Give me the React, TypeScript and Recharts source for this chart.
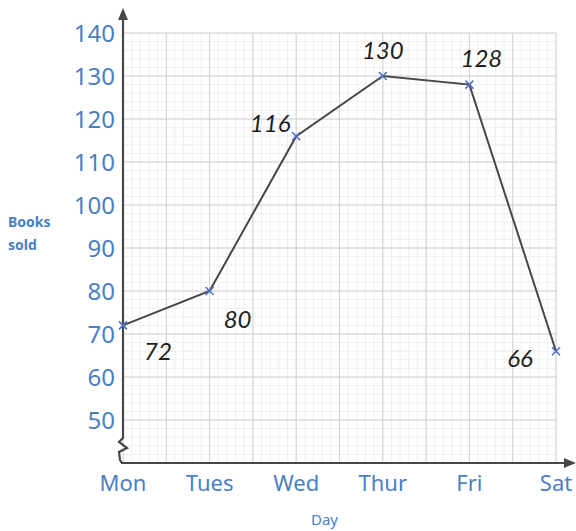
import { CartesianGrid, LabelList, Line, LineChart, ReferenceLine, XAxis, YAxis } from 'recharts'

const days = ['Mon', 'Tues', 'Wed', 'Thur', 'Fri', 'Sat']
const booksSold = [72, 80, 116, 130, 128, 66]
const yTicks = [50, 60, 70, 80, 90, 100, 110, 120, 130, 140]

const data = days.map((day, i) => ({ day, idx: i, sold: booksSold[i] }))

// where each handwritten number sits relative to its point
const labelShift = [
  [35, 25],
  [28, 27],
  [-26, -14],
  [0, -27],
  [12, -27],
  [-36, 6],
]

const blue = '#4a7fc3'
const ink = '#474747'

const spread = (start: number, size: number, n: number) =>
  Array.from({ length: n + 1 }, (_, i) => start + (i * size) / n)

function Cross(props: any) {
  const { cx, cy } = props
  if (cx == null || cy == null) return null
  return (
    <g stroke='#4d6fc4' strokeWidth={1.6}>
      <line x1={cx - 4} y1={cy - 4} x2={cx + 4} y2={cy + 4} />
      <line x1={cx - 4} y1={cy + 4} x2={cx + 4} y2={cy - 4} />
    </g>
  )
}

function YAxisLine(props: any) {
  const { x1, y1, y2 } = props
  const top = Math.min(y1, y2)
  const bottom = Math.max(y1, y2)
  const x = x1
  return (
    <g>
      <path
        d={`M${x},${top + 8} L${x},${bottom - 25} L${x - 4},${bottom - 21} L${x + 4},${bottom - 15} L${x - 4},${bottom - 11} L${x - 3},${bottom - 3} L${x - 1},${bottom}`}
        stroke={ink}
        strokeWidth={2.2}
        fill='none'
      />
      <polygon points={`${x},${top} ${x - 5},${top + 12} ${x + 5},${top + 12}`} fill={ink} />
    </g>
  )
}

function XAxisLine(props: any) {
  const { x1, x2, y1 } = props
  const left = Math.min(x1, x2)
  const right = Math.max(x1, x2)
  return (
    <g>
      <line x1={left - 2} y1={y1} x2={right - 8} y2={y1} stroke={ink} strokeWidth={2.2} />
      <polygon points={`${right},${y1} ${right - 12},${y1 - 5} ${right - 12},${y1 + 5}`} fill={ink} />
    </g>
  )
}

function HandLabel(props: any) {
  const { x, y, value, index } = props
  const [dx, dy] = labelShift[index]
  return (
    <text
      x={x + dx}
      y={y + dy}
      textAnchor='middle'
      dominantBaseline='central'
      fontFamily='Lato, sans-serif'
      fontStyle='italic'
      fontSize={24}
      fill='#1e1e1e'
    >
      {value}
    </text>
  )
}

export default function App() {
  return (
    <div style={{ position: 'absolute', left: 0, top: 0, background: '#fff' }}>
      <LineChart width={576} height={531} data={data} margin={{ top: 33, right: 20, left: 0, bottom: 0 }}>
        <CartesianGrid
          stroke='#efefef'
          strokeWidth={1}
          horizontalCoordinatesGenerator={({ offset }: any) => spread(offset.top, offset.height, 50)}
          verticalCoordinatesGenerator={({ offset }: any) => spread(offset.left, offset.width, 50)}
        />
        <CartesianGrid
          stroke='#d2d2d2'
          strokeWidth={1}
          horizontalCoordinatesGenerator={({ offset }: any) => spread(offset.top, offset.height, 10)}
          verticalCoordinatesGenerator={({ offset }: any) => spread(offset.left, offset.width, 10)}
        />
        <XAxis
          dataKey='idx'
          type='number'
          domain={[0, 5]}
          ticks={[0, 1, 2, 3, 4, 5]}
          tickFormatter={(i: number) => days[i]}
          height={68}
          axisLine={false}
          tickLine={false}
          tickMargin={6}
          tick={{ fill: blue, fontSize: 22, fontFamily: 'Noto Sans, sans-serif' }}
          label={{
            content: ({ viewBox }: any) => (
              <text
                x={viewBox.x + viewBox.width / 2 - 15}
                y={viewBox.y + viewBox.height - 6}
                textAnchor='middle'
                fontFamily='Noto Sans, sans-serif'
                fontSize={15}
                fill={blue}
              >
                Day
              </text>
            ),
          }}
        />
        <YAxis
          type='number'
          domain={[40, 140]}
          ticks={yTicks}
          width={123}
          axisLine={false}
          tickLine={false}
          tick={{ fill: blue, fontSize: 24, fontFamily: 'Noto Sans, sans-serif' }}
          label={{
            content: () => (
              <text fontFamily='Noto Sans, sans-serif' fontSize={14} fontWeight={700} fill={blue}>
                <tspan x={8} y={227}>Books</tspan>
                <tspan x={8} y={250}>sold</tspan>
              </text>
            ),
          }}
        />
        <ReferenceLine
          segment={[
            { x: 0, y: 40 },
            { x: 0, y: 145.8 },
          ]}
          ifOverflow='visible'
          shape={YAxisLine}
        />
        <ReferenceLine
          segment={[
            { x: 0, y: 40 },
            { x: 5.23, y: 40 },
          ]}
          ifOverflow='visible'
          shape={XAxisLine}
        />
        <Line
          type='linear'
          dataKey='sold'
          stroke={ink}
          strokeWidth={2}
          dot={<Cross />}
          activeDot={false}
          isAnimationActive={false}
        >
          <LabelList dataKey='sold' content={<HandLabel />} />
        </Line>
      </LineChart>
    </div>
  )
}
